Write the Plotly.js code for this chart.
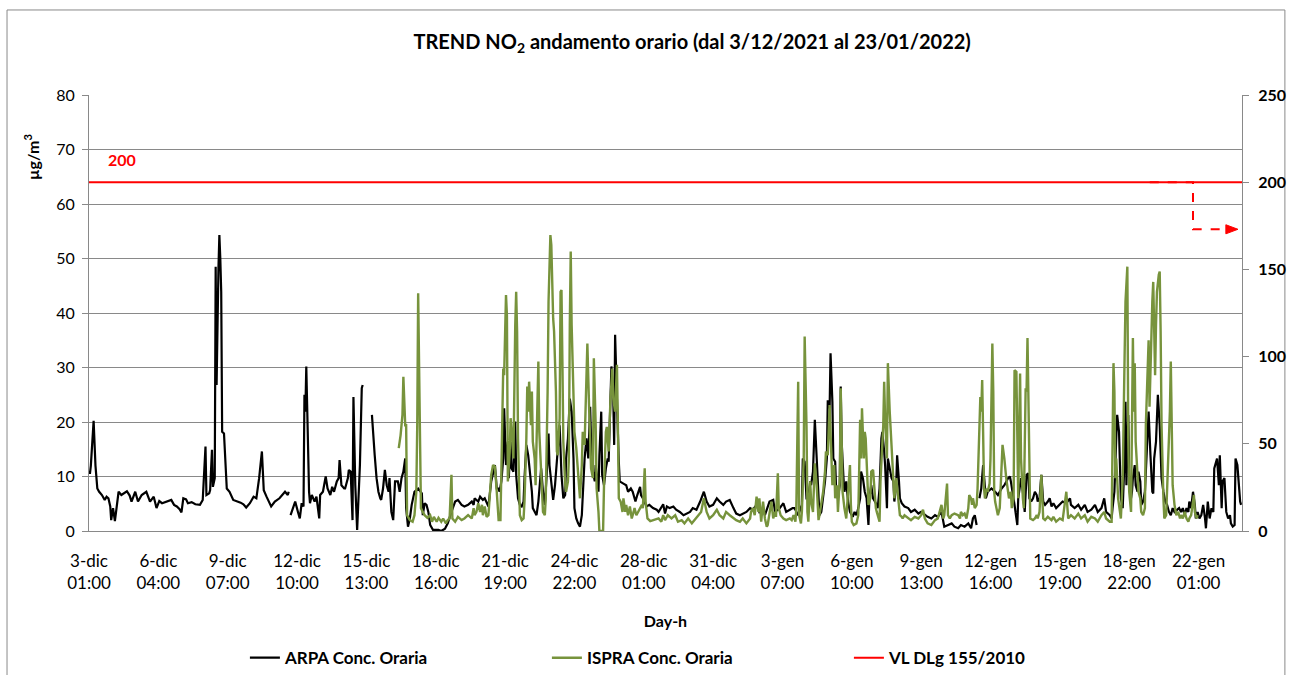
<!DOCTYPE html>
<html>
<head>
<meta charset="utf-8">
<script src="https://cdn.plot.ly/plotly-3.0.1.min.js"></script>
<style>html,body{margin:0;padding:0;background:#fff;}#chart{width:1289px;height:675px;}</style>
</head>
<body>
<div id="chart"></div>
<script>
// hour index 0 = 3-dic 01:00 (one category per hour)
const tickHours = [0,75,150,225,300,375,450,525,600,675,750,825,900,975,1050,1125,1200];
const tickLabels = ["3-dic<br>01:00","6-dic<br>04:00","9-dic<br>07:00","12-dic<br>10:00","15-dic<br>13:00","18-dic<br>16:00","21-dic<br>19:00","24-dic<br>22:00","28-dic<br>01:00","31-dic<br>04:00","3-gen<br>07:00","6-gen<br>10:00","9-gen<br>13:00","12-gen<br>16:00","15-gen<br>19:00","18-gen<br>22:00","22-gen<br>01:00"];
const lastHour = 1247;

// ARPA hourly concentration (µg/m3), [hour index, value]; null = missing data
const arpaPoints = [
[0,11],[1,10.5],[2,12],[5,20.2],[7,12],[9,7.8],[11,7.2],[14,6.6],[17,5.7],[19,6.3],[21,6.0],[23,4.5],[24,2.0],[26,4.2],[28,1.8],[30,4.5],[32,7.2],[35,6.6],[38,6.9],[41,7.3],[44,6.5],[46,5.4],[50,7.2],[53,5.4],[57,6.6],[62,7.2],[66,5.4],[70,6.3],[73,4.2],[76,5.5],[79,5.1],[84,5.4],[89,5.7],[92,4.8],[95,4.5],[98,4.0],[100,3.4],[102,6.0],[105,5.8],[107,5.1],[111,5.3],[115,4.9],[120,4.8],[123,5.7],[126,15.5],[127,6.6],[130,6.9],[131,7.5],[133,14.9],[134,8.1],[136,9.7],[137,48.5],[138,26.8],[140,48.2],[141,54.3],[142,50],[143,43.9],[144,18.2],[146,17.9],[149,7.8],[152,7.2],[156,5.7],[158,5.6],[161,5.4],[164,5.2],[167,4.9],[170,4.3],[174,5.1],[178,6.3],[181,6.0],[184,9.7],[187,14.6],[189,7.5],[192,6.3],[195,5.0],[197,4.5],[201,5.4],[206,6.0],[212,7.2],[215,6.6],[216,7.2],[217,null],
[218,2.9],[221,4.2],[223,5.4],[226,3.5],[228,2.3],[230,5.1],[232,4.5],[233,25.0],[234,21.9],[235,30.2],[236,21.9],[238,7.2],[239,5.1],[241,6.6],[244,5.4],[246,6.3],[249,2.3],[250,6.6],[253,7.2],[256,10.0],[258,7.8],[261,6.6],[263,8.1],[265,7.2],[268,9.1],[270,9.7],[271,13.0],[273,8.4],[276,7.8],[277,7.8],[280,9.7],[281,11.2],[283,10.9],[285,2.0],[286,24.6],[288,8.4],[290,0.2],[292,7.2],[293,12.1],[295,26.2],[296,26.8],[300,null],
[306,21.3],[307,18.2],[309,13.9],[311,9.7],[313,7.2],[315,6.0],[316,5.7],[318,7.8],[320,11.2],[322,8.4],[324,7.2],[325,9.7],[327,3.5],[329,2.0],[331,9.1],[334,9.1],[336,7.2],[338,9.7],[340,10.9],[342,13.3],[343,4.2],[345,0.8],[347,2.3],[349,4.8],[352,7.2],[356,7.8],[360,6.9],[361,2.9],[363,5.1],[365,4.8],[367,3.5],[369,1.1],[372,0.2],[378,0.2],[381,0],[385,0.4],[388,1.4],[392,3.5],[396,5.4],[399,5.7],[403,4.8],[406,4.5],
[410,4.8],[414,5.4],[416,4.8],[417,6.0],[421,5.4],[423,6.3],[426,5.7],[428,6.0],[432,4.5],[435,9.1],[437,10.9],[439,12.1],[441,7.8],[443,7.8],[444,7.2],[446,9.1],[448,13.3],[449,22.5],[451,12.1],[453,16.4],[454,9.7],[456,16.4],[457,11.5],[459,10.9],[461,20.1],[462,10.3],[464,6.0],[466,4.8],[468,4.5],[470,5.4],[471,9.7],[473,15.8],[475,13.9],[477,10.9],[479,7.2],[480,4.2],[482,3.5],[484,2.9],[486,5.4],[488,10.3],[489,11.5],[491,7.2],[493,4.8],[495,10.3],[497,17.9],[498,12.1],[500,8.4],[502,5.7],[504,8.4],[506,13.3],[507,16.4],[509,19.4],[511,10.3],[513,6.0],[515,6.6],[516,13.3],[518,17.0],[520,24.3],[522,21.9],[524,13.3],[525,4.2],[527,2.3],[529,1.4],[531,0.8],[533,2.9],[534,7.2],[536,13.3],[538,17.0],[540,13.3],[542,22.8],[543,16.4],[545,10.9],[547,9.1],[548,12.1],[551,7.2],[552,13.9],[554,21.9],[555,10.3],[557,8.4],[559,11.5],[561,13.3],[562,12.7],[564,21.9],[565,30.2],[567,24.3],[568,15.8],[569,36.0],[570,28.6],[572,18.2],[573,12.7],[574,9.1],[578,8.7],[581,8.4],[583,7.2],[586,7.8],[588,7.2],[591,5.4],[593,6.6],[596,8.1],[597,6.6],[599,6.0],[603,4.5],[606,4.8],[610,4.2],[614,3.9],
[616,3.5],[619,4.2],[621,4.9],[623,3.2],[625,4.5],[628,4.2],[632,4.5],[635,3.9],[639,3.5],[643,2.9],[646,3.1],[650,3.5],[653,4.2],[657,3.9],[661,5.4],[665,7.2],[668,5.4],[671,4.5],[675,4.8],[679,6.0],[682,5.4],[686,4.8],[689,5.4],[693,5.7],[697,4.2],[700,3.2],[704,2.9],[707,3.2],[711,3.5],[715,4.2],[718,3.9],[722,4.8],[725,3.5],[729,4.2],[731,2.9],[736,5.4],[740,5.7],[742,3.5],[747,4.2],[751,5.1],[754,3.5],[758,3.9],[761,4.2],[763,4.2],[767,2.9],[771,4.8],[772,13.3],[774,12.7],[776,6.0],[778,6.0],[780,9.1],[781,8.4],[783,10.9],[785,20.4],[787,13.3],[789,6.0],[790,2.9],[792,3.5],[794,6.0],[796,9.1],[798,13.3],[799,24.0],[801,22.5],[802,32.6],[804,23.7],[805,13.3],[807,12.7],[808,7.8],[810,6.0],[812,8.4],[813,26.5],[814,16.4],[816,9.7],
[817,7.2],[819,9.1],[821,5.4],[823,3.5],[825,2.9],[826,2.6],[828,3.5],[830,2.9],[832,4.2],[834,6.0],[835,10.9],[837,9.7],[839,7.2],[841,6.0],[843,1.1],[844,6.0],[846,8.4],[848,6.0],[850,5.4],[852,4.8],[853,4.2],[855,7.8],[857,17.0],[858,18.2],[860,14.6],[861,12.1],[863,4.2],[864,13.3],[866,11.5],[868,9.7],[870,9.1],[871,5.4],[873,8.4],[874,13.9],[876,9.1],[877,6.0],[879,5.1],[882,4.5],[886,4.2],[889,3.5],[893,3.9],[897,3.2],[900,3.5],[904,2.9],[907,2.6],[911,2.3],[915,2.9],[918,2.6],[922,3.5],[925,0.8],[929,1.1],[933,1.4],[936,0.8],[940,0.5],[943,1.1],[947,0.8],[951,1.4],[954,0.5],[956,2.3],[958,2.9],[960,1.1],[961,null],
[963,6.0],[965,7.8],[967,12.1],[969,7.2],[970,6.0],[972,7.2],[976,7.8],[980,7.2],[983,6.6],[987,7.8],[990,8.4],[994,9.7],[996,10.0],[997,9.1],[999,7.2],[1001,4.8],[1003,2.3],[1004,1.1],[1005,6.0],[1007,8.4],[1008,9.7],[1010,7.2],[1012,3.5],[1014,10.3],[1016,10.6],[1017,6.0],[1019,5.4],[1021,6.0],
[1023,7.2],[1025,6.6],[1026,5.4],[1028,6.0],[1030,10.3],[1032,5.4],[1034,4.8],[1037,5.4],[1039,6.0],[1041,4.5],[1043,5.1],[1046,4.2],[1050,4.8],[1053,5.4],[1057,5.1],[1061,6.0],[1062,4.8],[1066,4.2],[1070,4.8],[1073,3.9],[1077,4.8],[1080,3.5],[1084,3.9],[1088,4.8],[1091,3.5],[1095,4.2],[1098,6.0],[1100,3.5],[1104,2.9],[1106,2.3],[1107,4.2],[1109,7.2],[1111,17.0],[1112,21.3],[1114,18.2],[1115,13.3],[1116,6.0],[1118,4.2],[1120,13.3],[1121,23.7],[1122,8.4],[1124,21.3],[1125,10.3],[1127,6.0],[1128,7.2],[1129,9.7],[1131,12.1],[1132,8.4],[1134,7.2],[1135,10.9],[1137,9.1],[1138,4.8],[1140,5.4],[1142,7.2],[1143,10.9],[1145,17.0],[1146,21.9],[1148,13.9],[1150,7.2],[1151,6.9],[1152,13.3],[1154,16.4],[1156,25.0],[1158,19.4],[1159,13.3],[1160,9.7],[1162,7.2],[1164,5.4],[1166,4.8],[1168,3.5],[1170,2.9],[1172,4.2],[1174,3.5],[1177,3.9],[1179,4.2],[1181,3.5],[1183,4.2],[1185,2.9],[1187,4.2],[1189,3.5],[1190,5.4],[1192,4.2],[1194,7.2],[1196,4.8],[1197,2.3],[1199,3.5],[1201,2.3],[1203,2.9],[1205,4.8],[1207,2.3],[1208,0.5],[1210,5.4],[1212,2.3],[1214,4.2],[1216,3.5],[1217,11.5],[1219,12.7],[1220,13.3],[1222,8.4],[1223,13.9],[1225,4.2],[1226,9.1],[1228,9.7],[1230,3.5],[1232,2.3],[1234,2.9],[1235,1.4],[1237,0.8],[1239,1.1],[1240,13.3],[1242,12.1],[1243,9.7],[1245,5.4],[1246,4.8]
];

// ISPRA hourly concentration (µg/m3), [hour index, value]
const ispraPoints = [
[335,15.2],[337,17.6],[339,21.3],[340,28.3],[342,19.4],[343,19.4],[344,2.9],[347,2.0],[350,1.7],[352,2.9],[354,7.2],[355,19.4],[356,43.6],[357,26.8],[359,4.2],[361,3.5],[363,2.9],[366,2.4],[369,2.9],[371,1.7],[373,2.6],[376,1.7],[378,2.4],[381,1.7],[383,2.3],[386,1.4],[388,2.0],[390,2.3],[392,10.3],[393,2.3],[396,1.7],[399,2.6],[403,2.0],[406,2.3],
[410,2.9],[414,2.3],[416,4.2],[417,2.9],[419,3.5],[421,5.1],[423,3.5],[425,4.8],[426,2.9],[428,4.5],[430,2.6],[432,2.9],[434,7.2],[435,10.3],[437,12.1],[439,11.8],[441,7.2],[442,2.9],[443,2.0],[445,2.0],[446,13.3],[448,29.8],[449,28.6],[451,43.3],[452,39.6],[453,9.1],[455,14.6],[456,20.7],[458,16.4],[459,13.3],[461,37.8],[462,43.9],[463,36.6],[464,17.0],[466,2.9],[468,2.0],[470,2.3],[471,5.4],[473,17.0],[474,26.5],[475,21.9],[476,27.4],[478,19.4],[479,25.6],[480,16.4],[482,13.3],[483,8.4],[484,18.2],[486,31.1],[487,18.2],[489,10.9],[490,6.0],[491,3.5],[493,2.9],[494,6.0],[496,25.6],[497,42.1],[499,54.3],[500,52.5],[502,39.0],[503,36.6],[505,25.6],[506,14.6],[507,13.9],[509,20.7],[510,43.9],[511,44.2],[512,31.1],[513,16.4],[515,8.4],[516,7.2],[518,9.1],[519,13.3],[520,37.8],[521,51.3],[522,37.8],[524,25.6],[525,18.2],[527,15.2],[529,10.3],[531,6.0],[533,12.1],[534,18.2],[536,15.8],[538,25.6],[539,34.4],[541,21.9],[542,13.3],[543,11.5],[545,9.7],[546,31.7],[548,19.4],[549,7.8],[551,3.5],[552,0],[556,0],[557,8.4],[559,18.2],[560,19.1],[562,14.6],[563,19.4],[564,24.3],[566,29.8],[567,24.3],[569,21.9],[571,30.5],[572,19.4],[573,6.0],[575,5.4],[577,3.5],[578,6.0],[580,3.5],[581,4.8],[583,2.9],[585,4.5],[587,2.3],[589,3.5],[590,4.2],[592,2.9],[594,3.5],[596,4.2],[598,4.8],[599,4.2],[601,11.5],[602,5.4],[604,2.3],[607,1.8],[610,2.0],
[612,2.0],[616,2.3],[619,1.7],[621,2.9],[623,2.0],[626,2.9],[630,2.3],[634,2.9],[637,1.7],[641,2.0],[644,1.4],[648,2.3],[652,1.4],[655,2.0],[659,2.9],[662,3.5],[665,6.0],[668,3.5],[671,2.3],[675,2.9],[679,3.9],[682,2.9],[686,2.3],[689,3.5],[693,2.9],[697,2.3],[700,2.0],[704,1.7],[707,2.3],[711,1.4],[715,2.3],[716,3.5],[718,4.2],[720,2.9],[722,6.3],[724,3.5],[725,6.0],[727,1.7],[729,5.4],[731,2.3],[733,0.8],[734,1.1],[736,3.5],[738,5.4],[740,2.3],[742,3.5],[743,2.6],[745,10.6],[746,4.2],[748,2.9],[751,2.3],[754,2.0],[758,2.3],[760,2.0],[762,2.9],[764,1.7],[765,4.2],[767,27.4],[768,2.9],[770,1.4],[771,3.5],[773,13.3],[774,35.7],[776,19.4],[777,3.5],[778,1.7],[780,9.1],[781,5.4],[783,3.5],[784,7.2],[785,12.4],[787,8.4],[789,2.0],[790,2.9],[792,4.8],[794,7.2],[796,10.9],[797,14.6],[799,13.9],[800,18.2],[801,23.1],[803,13.3],[804,8.4],[806,12.1],[807,6.0],[809,8.4],[810,3.5],[812,9.7],[813,26.2],[814,17.0],[815,7.2],
[817,4.2],[819,2.3],[821,7.2],[823,12.1],[824,4.8],[825,1.7],[827,1.1],[830,1.4],[832,2.9],[833,10.9],[834,20.4],[835,13.3],[836,22.5],[838,13.3],[839,18.2],[840,17.0],[842,7.2],[843,4.8],[845,6.0],[846,10.9],[848,11.2],[849,8.4],[851,4.2],[852,3.5],[853,2.9],[855,1.7],[856,9.1],[858,15.8],[859,19.4],[860,27.4],[861,20.7],[863,13.3],[864,30.8],[866,21.9],[867,18.8],[869,13.3],[870,8.4],[871,6.0],[873,9.7],[875,6.0],[877,2.9],[879,2.6],[880,2.3],[882,2.9],[886,2.3],[889,2.0],[893,2.6],[897,2.3],[900,2.9],[902,3.9],[904,2.3],[907,1.4],[911,1.1],[915,2.0],[918,2.3],[920,3.5],[922,4.8],[924,2.3],[925,2.9],[928,8.7],[929,2.9],[931,2.3],[933,2.9],[936,3.2],[940,2.9],[942,2.3],[943,3.5],[945,2.9],[947,3.2],[949,2.3],[951,4.2],[952,6.6],[954,6.0],[955,4.8],[956,6.0],[958,4.2],[960,4.8],[961,7.8],[963,19.4],[964,24.6],[965,21.9],[966,27.7],[967,18.2],[968,7.8],[969,6.0],[971,7.8],[972,7.2],[974,8.7],[975,13.3],[977,34.4],[978,25.6],[979,7.2],[980,5.4],[982,3.5],[983,2.9],[985,4.2],[987,12.1],[988,15.8],[990,13.3],[991,10.9],[992,9.7],[994,7.2],[995,6.0],[997,7.2],[998,4.2],[1000,6.0],[1001,29.5],[1003,29.2],[1004,13.3],[1005,6.0],[1007,28.9],[1008,13.3],[1010,6.0],[1011,4.2],[1013,26.2],[1014,25.6],[1015,35.4],[1016,22.5],[1017,7.2],[1018,2.3],[1021,2.0],
[1023,2.3],[1025,2.9],[1026,2.3],[1028,3.5],[1030,10.3],[1032,2.3],[1034,2.0],[1037,2.6],[1041,2.0],[1043,2.6],[1046,1.7],[1050,2.3],[1053,2.0],[1057,7.2],[1059,2.3],[1062,2.9],[1066,2.3],[1070,3.2],[1073,2.3],[1077,2.9],[1080,1.7],[1084,2.6],[1088,2.3],[1091,1.7],[1095,2.9],[1098,3.5],[1100,2.3],[1104,1.7],[1106,1.7],[1108,30.8],[1109,25.6],[1110,9.7],[1111,13.3],[1113,6.0],[1115,3.5],[1116,2.3],[1118,9.7],[1119,18.2],[1120,31.7],[1121,42.1],[1123,48.5],[1124,17.0],[1125,7.2],[1127,3.5],[1128,18.2],[1129,35.4],[1130,21.9],[1131,30.8],[1132,16.4],[1134,9.7],[1135,7.2],[1137,6.0],[1138,3.5],[1140,2.9],[1142,4.2],[1143,19.4],[1145,28.9],[1146,35.0],[1147,22.8],[1148,29.8],[1149,39.0],[1150,42.1],[1151,45.7],[1152,37.8],[1153,28.6],[1154,37.8],[1155,43.9],[1157,47.0],[1158,47.6],[1159,36.6],[1160,19.4],[1162,6.0],[1163,2.3],[1165,2.9],[1166,7.8],[1168,18.2],[1169,21.9],[1170,31.1],[1171,21.9],[1172,8.4],[1174,4.8],[1176,2.9],[1178,3.5],[1180,2.3],[1181,2.9],[1183,2.3],[1185,3.5],[1187,2.3],[1189,1.7],[1190,2.3],[1192,2.9],[1194,5.4],[1195,6.6],[1196,3.5],[1198,2.3],[1199,2.9]
];

// Limit value (right axis), DLgs 155/2010
const vlHours = [0, lastHour];
const vlValues = [200, 200];

const FONT = "Lato, Carlito, Calibri, 'Open Sans', sans-serif";
const GRID = '#898989';

const traces = [
  {x: arpaPoints.map(p => p[0]), y: arpaPoints.map(p => p[1]), type: 'scatter', mode: 'lines',
   name: 'ARPA Conc. Oraria', connectgaps: false, line: {color: '#000000', width: 2.2}},
  {x: ispraPoints.map(p => p[0]), y: ispraPoints.map(p => p[1]), type: 'scatter', mode: 'lines',
   name: 'ISPRA Conc. Oraria', connectgaps: false, line: {color: '#77933C', width: 2.4}},
  {x: vlHours, y: vlValues, type: 'scatter', mode: 'lines', yaxis: 'y2',
   name: 'VL DLg 155/2010', line: {color: '#FF0000', width: 2}}
];

const layout = {
  width: 1289, height: 675,
  margin: {l: 89, r: 47, t: 95, b: 144, autoexpand: false},
  paper_bgcolor: '#ffffff', plot_bgcolor: '#ffffff',
  font: {family: FONT, size: 16, color: '#000000'},
  title: {text: '<b>TREND NO<sub>2</sub> andamento orario (dal 3/12/2021 al 23/01/2022)</b>',
          font: {family: FONT, size: 20, color: '#000000'},
          xref: 'container', yref: 'container', x: 0.537, xanchor: 'center', y: 0.938, yanchor: 'middle'},
  showlegend: true,
  legend: {orientation: 'h', xref: 'container', yref: 'container', x: 0.19, xanchor: 'left',
           y: 0.025, yanchor: 'middle',
           entrywidth: 257, entrywidthmode: 'pixels', itemwidth: 30,
           font: {family: FONT, size: 17, weight: 700, color: '#000000'}, bgcolor: 'rgba(0,0,0,0)'},
  xaxis: {range: [0, lastHour], tickmode: 'array', tickvals: tickHours, ticktext: tickLabels,
          automargin: false,
          ticks: '', showgrid: false, zeroline: false, showline: true, linecolor: GRID, linewidth: 1.3,
          tickfont: {family: FONT, size: 17, color: '#000000'}, ticklabelstandoff: 14,
          title: {text: '<b>Day-h</b>', font: {family: FONT, size: 16}, standoff: 24}},
  yaxis: {range: [0, 80], dtick: 10, tick0: 0, showgrid: true, gridcolor: GRID, gridwidth: 1,
          automargin: false,
          zeroline: false, showline: true, linecolor: GRID, linewidth: 1,
          ticks: 'outside', ticklen: 6, tickcolor: GRID, ticklabelstandoff: 4,
          tickfont: {family: FONT, size: 16, color: '#000000'}},
  yaxis2: {range: [0, 250], dtick: 50, tick0: 0, overlaying: 'y', side: 'right', showgrid: false,
           automargin: false,
           zeroline: false, showline: true, linecolor: GRID, linewidth: 1,
           ticks: 'outside', ticklen: 6, tickcolor: GRID, ticklabelstandoff: 6,
           tickfont: {family: FONT, size: 16, weight: 700, color: '#000000'}},
  annotations: [
    {text: '<b>µg/m<sup>3</sup></b>', xref: 'paper', yref: 'paper', x: -0.0494, y: 0.858,
     xanchor: 'center', yanchor: 'middle', textangle: -90, showarrow: false,
     font: {family: FONT, size: 16, color: '#000000'}},
    {text: '<b>200</b>', xref: 'paper', yref: 'paper', x: 0.0147, y: 0.852,
     xanchor: 'left', yanchor: 'middle', showarrow: false,
     font: {family: FONT, size: 16, color: '#FF0000'}}
  ],
  shapes: [
    {type: 'rect', xref: 'paper', yref: 'paper', x0: -0.0711, x1: 1.0372, y0: -0.36, y1: 1.195,
     line: {color: GRID, width: 1}, fillcolor: 'rgba(0,0,0,0)', layer: 'below'},
    {type: 'path', xref: 'paper', yref: 'y2', path: 'M 0.920 200 L 0.9575 200 L 0.9575 173 L 0.987 173',
     line: {color: '#FF0000', width: 2, dash: 'dash'}},
    {type: 'path', xref: 'paper', yref: 'y2', path: 'M 0.9965 173 L 0.986 175.6 L 0.986 170.4 Z',
     line: {color: '#FF0000', width: 1}, fillcolor: '#FF0000'}
  ]
};

Plotly.newPlot('chart', traces, layout, {displayModeBar: false, staticPlot: true});
</script>
</body>
</html>
